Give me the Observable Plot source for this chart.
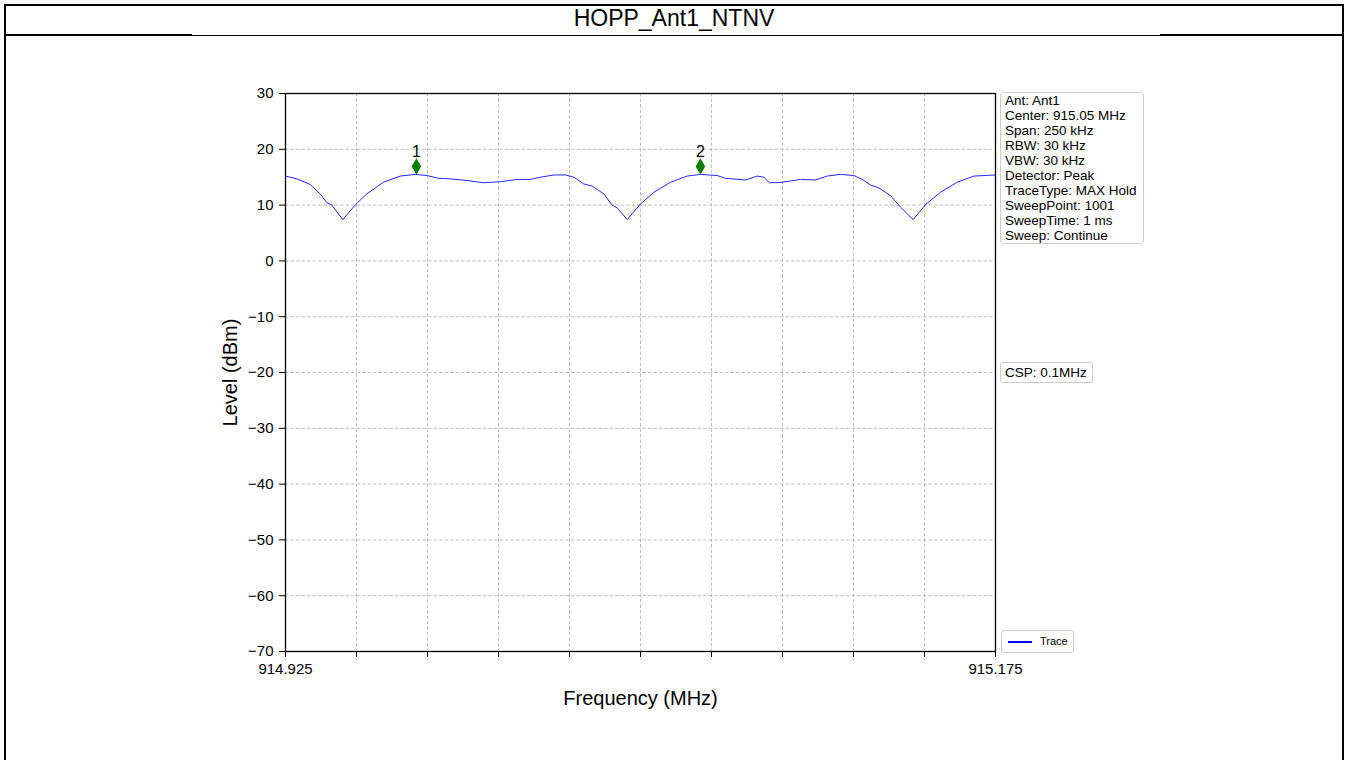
<!DOCTYPE html>
<html>
<head>
<meta charset="utf-8">
<script src="https://cdn.jsdelivr.net/npm/d3@7"></script>
<script src="https://cdn.jsdelivr.net/npm/@observablehq/plot@0.6"></script>
<style>
  html, body { margin: 0; padding: 0; background: #fff; }
  body { font-family: "Liberation Sans", Arial, sans-serif; color: #000; }
  #page { position: relative; width: 1348px; height: 760px; overflow: hidden; background: #fff; }
  #frame { position: absolute; left: 4px; top: 4px; width: 1336px; height: 800px; border: 2px solid #000; pointer-events: none; z-index: 3; }
  #title { position: absolute; left: 6px; right: 6px; top: 4px; height: 29px; line-height: 29px; text-align: center; font-size: 23px; z-index: 2; }
  .hline { position: absolute; background: #000; z-index: 2; }
  #chart { position: absolute; left: 0; top: 36px; }
  .box { position: absolute; border: 1px solid #cccccc; border-radius: 3px; background: #fff; z-index: 2; white-space: nowrap; }
  #info { left: 1000px; top: 92px; width: 138px; height: 150px; padding: 0 0 0 4px; font-size: 13.5px; line-height: 15px; }
  #csp { left: 1000px; top: 362px; width: 87px; height: 19px; padding: 0 0 0 4px; font-size: 13.5px; line-height: 19px; }
  #legend { left: 1001px; top: 630px; width: 71px; height: 21px; font-size: 11px; }
  #legend .sw { position: absolute; left: 6px; top: 10px; width: 24px; height: 1.5px; background: #0000ff; }
  #legend .lb { position: absolute; left: 38px; top: 0; line-height: 21px; }
</style>
</head>
<body>
<div id="page">
  <div id="frame"></div>
  <div id="title"></div>
  <div class="hline" style="left:6px; width:1336px; top:35px; height:1px;"></div>
  <div class="hline" style="left:6px; width:186px; top:34px; height:2px;"></div>
  <div class="hline" style="left:1160px; width:182px; top:34px; height:2px;"></div>
  <div id="chart"></div>
  <div id="info" class="box"></div>
  <div id="csp" class="box"></div>
  <div id="legend" class="box"><div class="sw"></div><div class="lb"></div></div>
</div>
<script>
// ---- data ----
const chartTitle = "HOPP_Ant1_NTNV";
const xLabel = "Frequency (MHz)";
const yLabel = "Level (dBm)";
const seriesName = "Trace";

const freq = [
  914.9250, 914.9290, 914.9337, 914.9372, 914.9395, 914.9413, 914.9452,
  914.9495, 914.9536, 914.9595, 914.9654, 914.9707, 914.9748, 914.9789,
  914.9831, 914.9890, 914.9948, 915.0007, 915.0066, 915.0113, 915.0148,
  915.0195, 915.0236, 915.0265, 915.0300, 915.0330, 915.0371, 915.0400,
  915.0418, 915.0453, 915.0500, 915.0547, 915.0606, 915.0664, 915.0711,
  915.0770, 915.0799, 915.0870, 915.0911, 915.0934, 915.0954, 915.0993,
  915.1063, 915.1116, 915.1157, 915.1204, 915.1251, 915.1281, 915.1310,
  915.1339, 915.1380, 915.1416, 915.1460, 915.1504, 915.1556, 915.1615,
  915.1674, 915.1750
];
const level = [
  15.2, 14.7, 13.7, 12.0, 10.5, 10.0, 7.4,
  10.0, 12.0, 14.1, 15.2, 15.5, 15.3, 14.8,
  14.7, 14.4, 14.0, 14.2, 14.6, 14.6, 15.0,
  15.4, 15.4, 15.0, 13.8, 13.4, 12.0, 10.0,
  9.5, 7.4, 10.2, 12.3, 14.1, 15.2, 15.5,
  15.3, 14.8, 14.5, 15.2, 15.0, 14.0, 14.05,
  14.6, 14.5, 15.2, 15.5, 15.3, 14.6, 13.6,
  13.1, 11.7, 9.6, 7.4, 10.1, 12.3, 14.1,
  15.2, 15.4
];

const markerLabels = ["1", "2"];
const markerFreq = [914.9711, 915.0711];
const markerLevel = [15.5, 15.5];

const xTicks = [914.925, 914.950, 914.975, 915.000, 915.025, 915.050, 915.075, 915.100, 915.125, 915.150, 915.175];
const xTickLabels = ["914.925", "", "", "", "", "", "", "", "", "", "915.175"];
const yTicks = [-70, -60, -50, -40, -30, -20, -10, 0, 10, 20, 30];
const yTickLabels = ["\u221270", "\u221260", "\u221250", "\u221240", "\u221230", "\u221220", "\u221210", "0", "10", "20", "30"];

const infoLines = [
  "Ant: Ant1", "Center: 915.05 MHz", "Span: 250 kHz", "RBW: 30 kHz", "VBW: 30 kHz",
  "Detector: Peak", "TraceType: MAX Hold", "SweepPoint: 1001", "SweepTime: 1 ms", "Sweep: Continue"
];
const cspText = "CSP: 0.1MHz";

// ---- build ----
const trace = freq.map((f, i) => ({f, v: level[i]}));
const markers = markerLabels.map((m, i) => ({m, f: markerFreq[i], v: markerLevel[i]}));
const lookup = (ticks, labels) => d => {
  const i = ticks.findIndex(t => Math.abs(t - d) < 1e-7);
  return i >= 0 ? labels[i] : "";
};

const font = "'Liberation Sans', Arial, sans-serif";
const chart = Plot.plot({
  width: 1348,
  height: 724,
  marginLeft: 285,
  marginRight: 353,
  marginTop: 57,
  marginBottom: 109,
  style: {background: "transparent", fontFamily: font, color: "#000", overflow: "visible"},
  x: {type: "linear", domain: [914.925, 915.175]},
  y: {type: "linear", domain: [-70, 30]},
  marks: [
    Plot.gridX(xTicks, {stroke: "#b0b0b0", strokeOpacity: 1, strokeWidth: 0.8, strokeDasharray: "3.5,2"}),
    Plot.gridY(yTicks, {stroke: "#b0b0b0", strokeOpacity: 1, strokeWidth: 0.8, strokeDasharray: "3.5,2"}),
    Plot.line(trace, {x: "f", y: "v", stroke: "#0000ff", strokeWidth: 1, strokeOpacity: 0.85}),
    Plot.dot(markers, {x: "f", y: "v", symbol: "diamond", r: 5, fill: "green", stroke: "none", dy: -8}),
    Plot.text(markers, {x: "f", y: "v", text: "m", dy: -22.5, fontSize: 16, fill: "#000", lineAnchor: "middle"}),
    Plot.frame({stroke: "#000", strokeWidth: 1.3}),
    Plot.axisX({ticks: xTicks, tickFormat: lookup(xTicks, xTickLabels), tickSize: 6, tickPadding: 6, fontSize: 15, label: null}),
    Plot.axisY({ticks: yTicks, tickFormat: lookup(yTicks, yTickLabels), tickSize: 6, tickPadding: 6, fontSize: 15, label: null}),
    Plot.text([xLabel], {frameAnchor: "bottom", dy: 47, fontSize: 20, textAnchor: "middle", lineAnchor: "middle", fill: "#000"}),
    Plot.text([yLabel], {frameAnchor: "left", dx: -55, rotate: -90, fontSize: 20, textAnchor: "middle", lineAnchor: "middle", fill: "#000"})
  ]
});
document.getElementById("chart").appendChild(chart);

document.getElementById("title").textContent = chartTitle;
document.getElementById("info").innerHTML = infoLines.map(s => `<div>${s}</div>`).join("");
document.getElementById("csp").textContent = cspText;
document.querySelector("#legend .lb").textContent = seriesName;
</script>
</body>
</html>
